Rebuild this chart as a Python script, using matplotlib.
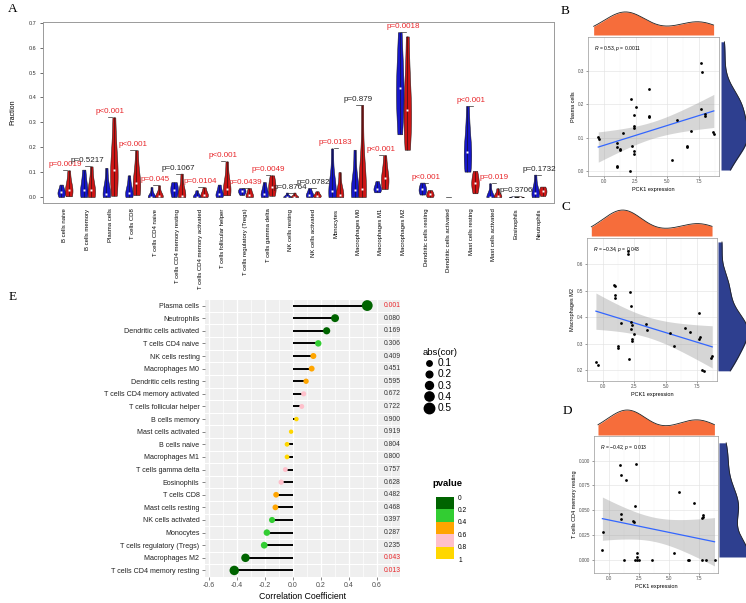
import matplotlib
matplotlib.use("Agg")
import matplotlib.pyplot as plt
import numpy as np
from matplotlib import mlab
from matplotlib.colors import BoundaryNorm, ListedColormap
from matplotlib.lines import Line2D

W, H = 746, 603

plt.rcParams["font.family"] = ["Liberation Sans", "DejaVu Sans"]
plt.rcParams["mathtext.fontset"] = "custom"
plt.rcParams["mathtext.rm"] = "Liberation Sans"
plt.rcParams["mathtext.it"] = "Liberation Sans:italic"

# ---- panel A: immune fractions, low (blue) vs high (red) PCK1 ----
CELL_TYPES = [
    "B cells naive", "B cells memory", "Plasma cells", "T cells CD8", "T cells CD4 naive",
    "T cells CD4 memory resting", "T cells CD4 memory activated", "T cells follicular helper",
    "T cells regulatory (Tregs)", "T cells gamma delta", "NK cells resting", "NK cells activated",
    "Monocytes", "Macrophages M0", "Macrophages M1", "Macrophages M2", "Dendritic cells resting",
    "Dendritic cells activated", "Mast cells resting", "Mast cells activated", "Eosinophils",
    "Neutrophils",
]
# five-number summaries (min, q1, median, q3, max)
LOW_STATS = [
    [0.0, 0.012, 0.019, 0.028, 0.05], [0.0, 0.012, 0.027, 0.06, 0.11],
    [0.0, 0.005, 0.011, 0.04, 0.117], [0.0, 0.006, 0.015, 0.035, 0.087],
    [0.0, 0.0, 0.0, 0.002, 0.04], [0.0, 0.015, 0.03, 0.045, 0.06],
    [0.0, 0.0, 0.002, 0.01, 0.027], [0.0, 0.006, 0.011, 0.025, 0.05],
    [0.008, 0.017, 0.024, 0.028, 0.036], [0.0, 0.006, 0.013, 0.03, 0.06],
    [0.0, 0.0, 0.0, 0.003, 0.018], [0.0, 0.004, 0.01, 0.018, 0.036],
    [0.0, 0.01, 0.023, 0.05, 0.195], [0.0, 0.012, 0.03, 0.06, 0.19],
    [0.019, 0.028, 0.034, 0.045, 0.064], [0.252, 0.37, 0.436, 0.5, 0.662],
    [0.01, 0.022, 0.031, 0.042, 0.058], [0.0, 0.0, 0.0, 0.0, 0.0],
    [0.102, 0.15, 0.18, 0.23, 0.366], [0.0, 0.0, 0.0, 0.0, 0.055],
    [0.0, 0.0, 0.0, 0.0, 0.004], [0.0, 0.008, 0.016, 0.03, 0.09],
]
HIGH_STATS = [
    [0.003, 0.018, 0.03, 0.05, 0.107], [0.0, 0.01, 0.027, 0.05, 0.123],
    [0.005, 0.06, 0.11, 0.16, 0.32], [0.008, 0.03, 0.056, 0.09, 0.188],
    [0.0, 0.0, 0.003, 0.01, 0.047], [0.0, 0.002, 0.005, 0.03, 0.094],
    [0.0, 0.004, 0.01, 0.02, 0.039], [0.007, 0.02, 0.032, 0.06, 0.143],
    [0.0, 0.002, 0.007, 0.02, 0.036], [0.005, 0.022, 0.04, 0.06, 0.087],
    [0.0, 0.0, 0.0, 0.004, 0.018], [0.0, 0.003, 0.006, 0.012, 0.023],
    [0.0, 0.002, 0.007, 0.03, 0.1], [0.0, 0.012, 0.033, 0.07, 0.37],
    [0.032, 0.055, 0.075, 0.1, 0.168], [0.19, 0.3, 0.349, 0.42, 0.645],
    [0.0, 0.005, 0.011, 0.018, 0.028], [0.0, 0.0, 0.0, 0.0, 0.0],
    [0.015, 0.04, 0.058, 0.075, 0.105], [0.0, 0.0, 0.004, 0.012, 0.035],
    [0.0, 0.0, 0.0, 0.0, 0.004], [0.004, 0.015, 0.023, 0.032, 0.042],
]
P_LABELS = [
    "p=0.0019", "p=0.5217", "p<0.001", "p<0.001", "p=0.045", "p=0.1067", "p=0.0104",
    "p<0.001", "p=0.0439", "p=0.0049", "p=0.8764", "p=0.0782", "p=0.0183", "p=0.879",
    "p<0.001", "p=0.0018", "p<0.001", "", "p<0.001", "p=0.019", "p=0.3706", "p=0.1732",
]

# ---- panel E: lollipop of correlations ----
LOLLI_CELLS = [
    "Plasma cells", "Neutrophils", "Dendritic cells activated", "T cells CD4 naive",
    "NK cells resting", "Macrophages M0", "Dendritic cells resting",
    "T cells CD4 memory activated", "T cells follicular helper", "B cells memory",
    "Mast cells activated", "B cells naive", "Macrophages M1", "T cells gamma delta",
    "Eosinophils", "T cells CD8", "Mast cells resting", "NK cells activated", "Monocytes",
    "T cells regulatory (Tregs)", "Macrophages M2", "T cells CD4 memory resting",
]
LOLLI_COR = [0.53, 0.30, 0.24, 0.18, 0.145, 0.133, 0.093, 0.076, 0.062, 0.024, -0.014,
             -0.043, -0.043, -0.055, -0.085, -0.121, -0.126, -0.15, -0.187, -0.206, -0.34, -0.42]
LOLLI_P = ["0.001", "0.080", "0.169", "0.306", "0.409", "0.451", "0.595", "0.672", "0.722",
           "0.900", "0.919", "0.804", "0.800", "0.757", "0.628", "0.482", "0.468", "0.397",
           "0.287", "0.235", "0.043", "0.013"]
P_BOUNDS = [0, 0.2, 0.4, 0.6, 0.8, 1]
P_COLORS = ["#006400", "#32CD32", "#FFA500", "#FFC0CB", "#FFD700"]
SIZE_LEVELS = [0.1, 0.2, 0.3, 0.4, 0.5]

# ---- panels B-D: PCK1 vs cell fraction ----
PCK1_B = [-0.44, -0.36, 7.67, 7.72, 3.58, 2.18, 2.53, 2.38, 3.55, 3.58, 2.36, 2.38, 1.49, 1.04,
          1.06, 1.26, 1.31, 2.23, 2.41, 2.41, 1.01, 1.06, 2.08, 5.38, 5.74, 6.90, 7.67, 7.97,
          8.00, 6.55, 6.58, 8.63, 8.68]
PLASMA_B = [0.103, 0.097, 0.323, 0.295, 0.245, 0.214, 0.192, 0.169, 0.166, 0.162, 0.134, 0.129,
            0.113, 0.083, 0.072, 0.066, 0.062, 0.076, 0.060, 0.053, 0.015, 0.012, 0.001, 0.033,
            0.152, 0.121, 0.186, 0.172, 0.165, 0.076, 0.072, 0.117, 0.112]
PCK1_C = [-0.54, -0.41, 0.92, 0.97, 0.97, 1.00, 1.99, 1.99, 2.19, 2.27, 1.43, 2.25, 2.30, 2.22,
          2.50, 2.30, 2.30, 1.20, 1.20, 2.12, 3.47, 3.50, 5.36, 5.69, 6.51, 6.92, 7.63, 7.69,
          7.74, 7.91, 8.02, 8.65, 8.71]
M2_C = [0.229, 0.219, 0.524, 0.519, 0.486, 0.474, 0.651, 0.641, 0.494, 0.444, 0.379, 0.383,
        0.371, 0.356, 0.338, 0.317, 0.309, 0.291, 0.285, 0.242, 0.376, 0.352, 0.340, 0.291,
        0.358, 0.344, 0.418, 0.318, 0.324, 0.202, 0.195, 0.247, 0.252]
PCK1_D = [-0.55, -0.47, 0.92, 0.98, 0.98, 1.00, 1.22, 1.46, 2.16, 2.02, 2.05, 2.24, 2.32, 2.32,
          2.19, 2.37, 2.53, 3.58, 5.80, 5.45, 6.63, 6.68, 7.06, 7.83, 7.81, 7.78, 7.78, 8.10, 8.80]
CD4MR_D = [0.0099, 0.0276, 0.096, 0.086, 0.046, 0.0415, 0.0, 0.080, 0.0537, 0.0392, 0.0384,
           0.097, 0.0068, 0.0028, 0.0, 0.0, 0.0, 0.0, 0.0688, 0.0065, 0.0, 0.0, 0.0574, 0.0446,
           0.0435, 0.042, 0.0, 0.0, 0.0]
X_TICKS = [0.0, 2.5, 5.0, 7.5]

BLUE = "#1616C8"
RED = "#CC1515"
PRED = "#E8262A"
ORANGE = "#F66D3B"
NAVY = "#2E3F8F"
T_CRIT = 2.04  # t quantile for ~31 df, 95% band


def px_ax(fig, left, top, right, bottom):
    return fig.add_axes([left / W, 1 - bottom / H, (right - left) / W, (bottom - top) / H])


def letter(fig, x, y, s):
    fig.text(x / W, 1 - y / H, s, fontsize=9.5, family="Liberation Serif",
             ha="center", va="center")


def panel_a(fig):
    ax = px_ax(fig, 43, 22, 554, 203)
    for i, (lo, hi) in enumerate(zip(LOW_STATS, HIGH_STATS)):
        for vals, pos, col in ((lo, 3 * i, BLUE), (hi, 3 * i + 1, RED)):
            vals = np.asarray(vals, dtype=float)
            if np.ptp(vals) == 0:
                continue
            parts = ax.violinplot([vals], positions=[pos], widths=1.0, showextrema=False,
                                  bw_method=0.75)
            body = parts["bodies"][0]
            body.set_facecolor(col)
            body.set_edgecolor("#111111")
            body.set_linewidth(0.35)
            body.set_alpha(1)
            ax.vlines(pos, vals.min(), vals.max(), color="#111111", lw=0.4, zorder=3)
            ax.plot(pos, np.median(vals), marker="s", ms=1.9, color="white", mec="none",
                    zorder=4)
        mx = max(max(lo), max(hi))
        ax.plot([3 * i + 0.2, 3 * i + 0.8], [mx, mx], color="#333333", lw=0.5)
        lab = P_LABELS[i]
        if lab:
            red = "<" in lab or float(lab[2:]) < 0.05
            ax.text(3 * i + 0.5, mx + 0.022, lab, ha="center", va="center", fontsize=5.8,
                    color=PRED if red else "#222222")

    ax.set_xlim(-2.42, 65.5)
    ax.set_ylim(-0.024, 0.703)
    ax.set_xticks([3 * i + 0.5 for i in range(len(CELL_TYPES))])
    ax.set_xticklabels(CELL_TYPES, rotation=90, fontsize=4.3)
    ax.tick_params(axis="x", length=0, pad=4)
    yt = np.arange(0, 0.71, 0.1)
    ax.set_yticks(yt)
    ax.set_yticklabels([f"{v:.1f}" for v in yt], fontsize=4)
    ax.tick_params(axis="y", length=2.5, width=0.5, pad=2, colors="#333333")
    ax.set_ylabel("Fraction", fontsize=5, labelpad=9)
    for sp in ax.spines.values():
        sp.set_color("#9A9A9A")
        sp.set_linewidth(0.7)
    letter(fig, 13, 9, "A")


def dot_diam(r):
    # marker diameter in points for |cor|
    return (4.2 + 12.5 * abs(r)) * 0.72


def panel_e(fig):
    ax = px_ax(fig, 205, 299.5, 400, 576.5)
    ax.set_facecolor("#EFEFEF")
    n = len(LOLLI_CELLS)
    y = np.arange(n)
    for v in np.arange(-0.6, 0.61, 0.2):
        ax.axvline(v, color="white", lw=0.9, zorder=0)
    for v in np.arange(-0.5, 0.71, 0.2):
        ax.axvline(v, color="white", lw=0.45, zorder=0)
    for v in y[:-1] + 0.5:
        ax.axhline(v, color="white", lw=0.8, zorder=0)

    cor = np.asarray(LOLLI_COR)
    pv = np.array([float(p) for p in LOLLI_P])
    cols = [P_COLORS[min(np.digitize(p, P_BOUNDS[1:-1]), 4)] for p in pv]
    ax.hlines(y, 0, cor, color="black", lw=1.4, zorder=2)
    ax.scatter(cor, y, s=[dot_diam(r) ** 2 for r in cor], c=cols, zorder=3, linewidths=0)
    for i, p in enumerate(LOLLI_P):
        ax.text(0.71, i, p, ha="center", va="center", fontsize=4.9,
                color=PRED if float(p) < 0.05 else "#333333")

    ax.set_xlim(-0.629, 0.764)
    ax.set_ylim(n - 1 + 0.48, -0.48)
    xt = np.arange(-0.6, 0.61, 0.2)
    ax.set_xticks(xt)
    ax.set_xticklabels([f"{v:.1f}" for v in xt], fontsize=5, color="#4D4D4D")
    ax.set_yticks(y)
    ax.set_yticklabels(LOLLI_CELLS, fontsize=5.1, color="#222222")
    ax.tick_params(length=2, width=0.5, color="#555555", pad=2)
    for sp in ax.spines.values():
        sp.set_visible(False)
    ax.set_xlabel("Correlation Coefficient", fontsize=6.3, labelpad=2)

    handles = [Line2D([], [], ls="none", marker="o", color="black", markersize=dot_diam(v))
               for v in SIZE_LEVELS]
    fig.legend(handles, [str(v) for v in SIZE_LEVELS], title="abs(cor)", loc="upper left",
               bbox_to_anchor=(423 / W, 1 - 348 / H), frameon=False, fontsize=7.3,
               title_fontsize=6.8, handletextpad=0.2, labelspacing=0.12, handlelength=1.2,
               borderaxespad=0, borderpad=0, alignment="left")

    fig.text(432 / W, 1 - 483 / H, "pvalue", fontsize=6.8, fontweight="bold", va="center")
    cax = px_ax(fig, 436, 497, 454, 559)
    norm = BoundaryNorm(P_BOUNDS, len(P_COLORS))
    cb = fig.colorbar(plt.cm.ScalarMappable(norm=norm, cmap=ListedColormap(P_COLORS)),
                      cax=cax, ticks=P_BOUNDS)
    cb.outline.set_visible(False)
    cax.invert_yaxis()
    cax.set_yticklabels(["0", "0.2", "0.4", "0.6", "0.8", "1"])
    cax.tick_params(length=0, labelsize=4.8, pad=3)
    letter(fig, 13, 297, "E")


def cor_panel(fig, x, y, ylabel, label, sc_box, top_box, right_box, ylim, yticks, yfmt,
              ymin_step):
    x = np.asarray(x, dtype=float)
    y = np.asarray(y, dtype=float)
    xlim = (-0.87, 9.09)

    ax = px_ax(fig, *sc_box)
    ax.set_xlim(*xlim)
    ax.set_ylim(*ylim)
    ax.set_xticks(X_TICKS)
    ax.set_xticklabels([f"{v:.1f}" for v in X_TICKS])
    ax.set_xticks(np.arange(-1.25, 9.1, 2.5), minor=True)
    ax.set_yticks(yticks)
    ax.set_yticklabels([yfmt.format(v) for v in yticks])
    ax.set_yticks(np.arange(yticks[0] - ymin_step, yticks[-1] + 2 * ymin_step, 2 * ymin_step)
                  + ymin_step, minor=True)
    ax.grid(which="major", color="#E3E3E3", lw=0.45)
    ax.grid(which="minor", color="#F1F1F1", lw=0.3)
    ax.set_axisbelow(True)
    ax.tick_params(which="major", labelsize=3.3, length=1.5, width=0.4, pad=1,
                   colors="#4D4D4D")
    ax.tick_params(which="minor", length=0)
    for sp in ax.spines.values():
        sp.set_color("#9A9A9A")
        sp.set_linewidth(0.5)
    ax.set_xlabel("PCK1 expression", fontsize=4, labelpad=1.5)
    ax.set_ylabel(ylabel, fontsize=4, labelpad=1.5)

    slope, icpt = np.polyfit(x, y, 1)
    xs = np.linspace(x.min(), x.max(), 80)
    fit = icpt + slope * xs
    resid = y - (icpt + slope * x)
    s = np.sqrt(np.sum(resid ** 2) / (len(x) - 2))
    se = s * np.sqrt(1 / len(x) + (xs - x.mean()) ** 2 / np.sum((x - x.mean()) ** 2))
    ax.fill_between(xs, fit - T_CRIT * se, fit + T_CRIT * se, color="#999999", alpha=0.4,
                    lw=0, zorder=2)
    ax.plot(xs, fit, color="#3366FF", lw=0.9, zorder=3)
    ax.scatter(x, y, s=4, color="black", lw=0, zorder=4)
    ax.annotate(label, xy=(0, 1), xycoords="axes fraction", xytext=(4.5, -8),
                textcoords="offset points", fontsize=3.6, va="center", ha="left")

    n = len(x)
    factor = 0.9 * n ** -0.2
    gx = np.linspace(x.min(), x.max(), 200)
    dx = mlab.GaussianKDE(x, factor).evaluate(gx)
    axt = px_ax(fig, *top_box)
    axt.fill_between(gx, 0, dx, color=ORANGE, lw=0)
    axt.plot(gx, dx, color="#222222", lw=0.6)
    axt.set_xlim(*xlim)
    axt.set_ylim(0, dx.max() * 1.04)
    axt.axis("off")

    gy = np.linspace(y.min(), y.max(), 200)
    dy = mlab.GaussianKDE(y, factor).evaluate(gy)
    axr = px_ax(fig, *right_box)
    axr.fill_betweenx(gy, 0, dy, color=NAVY, lw=0)
    axr.plot(dy, gy, color="#222222", lw=0.6)
    axr.set_ylim(*ylim)
    axr.set_xlim(0, dy.max() * 1.0)
    axr.axis("off")


def main():
    fig = plt.figure(figsize=(W / 100, H / 100), dpi=100)
    panel_a(fig)
    panel_e(fig)

    cor_panel(fig, PCK1_B, PLASMA_B, "Plasma cells", r"$R$ = 0.53, $p$ = 0.0011",
              (588, 37, 719, 176), (588, 11, 719, 35), (721, 37, 748, 176),
              (-0.014, 0.335), [0.0, 0.1, 0.2, 0.3], "{:.1f}", 0.05)
    letter(fig, 565, 11, "B")

    cor_panel(fig, PCK1_C, M2_C, "Macrophages M2", r"$R$ = −0.34, $p$ = 0.043",
              (587, 238, 717, 381), (587, 209, 717, 236), (718, 238, 748, 381),
              (0.159, 0.665), [0.2, 0.3, 0.4, 0.5, 0.6], "{:.1f}", 0.05)
    letter(fig, 566, 207, "C")

    cor_panel(fig, PCK1_D, CD4MR_D, "T cells CD4 memory resting", r"$R$ = −0.42, $p$ = 0.013",
              (594, 436, 718, 573), (594, 409, 718, 435), (719, 436, 748, 573),
              (-0.0136, 0.1028), [0.0, 0.025, 0.05, 0.075, 0.1], "{:.3f}", 0.0125)
    letter(fig, 567, 411, "D")

    fig.savefig("out.png", dpi=100)
    plt.close(fig)
    return 0


if __name__ == "__main__":
    main()
